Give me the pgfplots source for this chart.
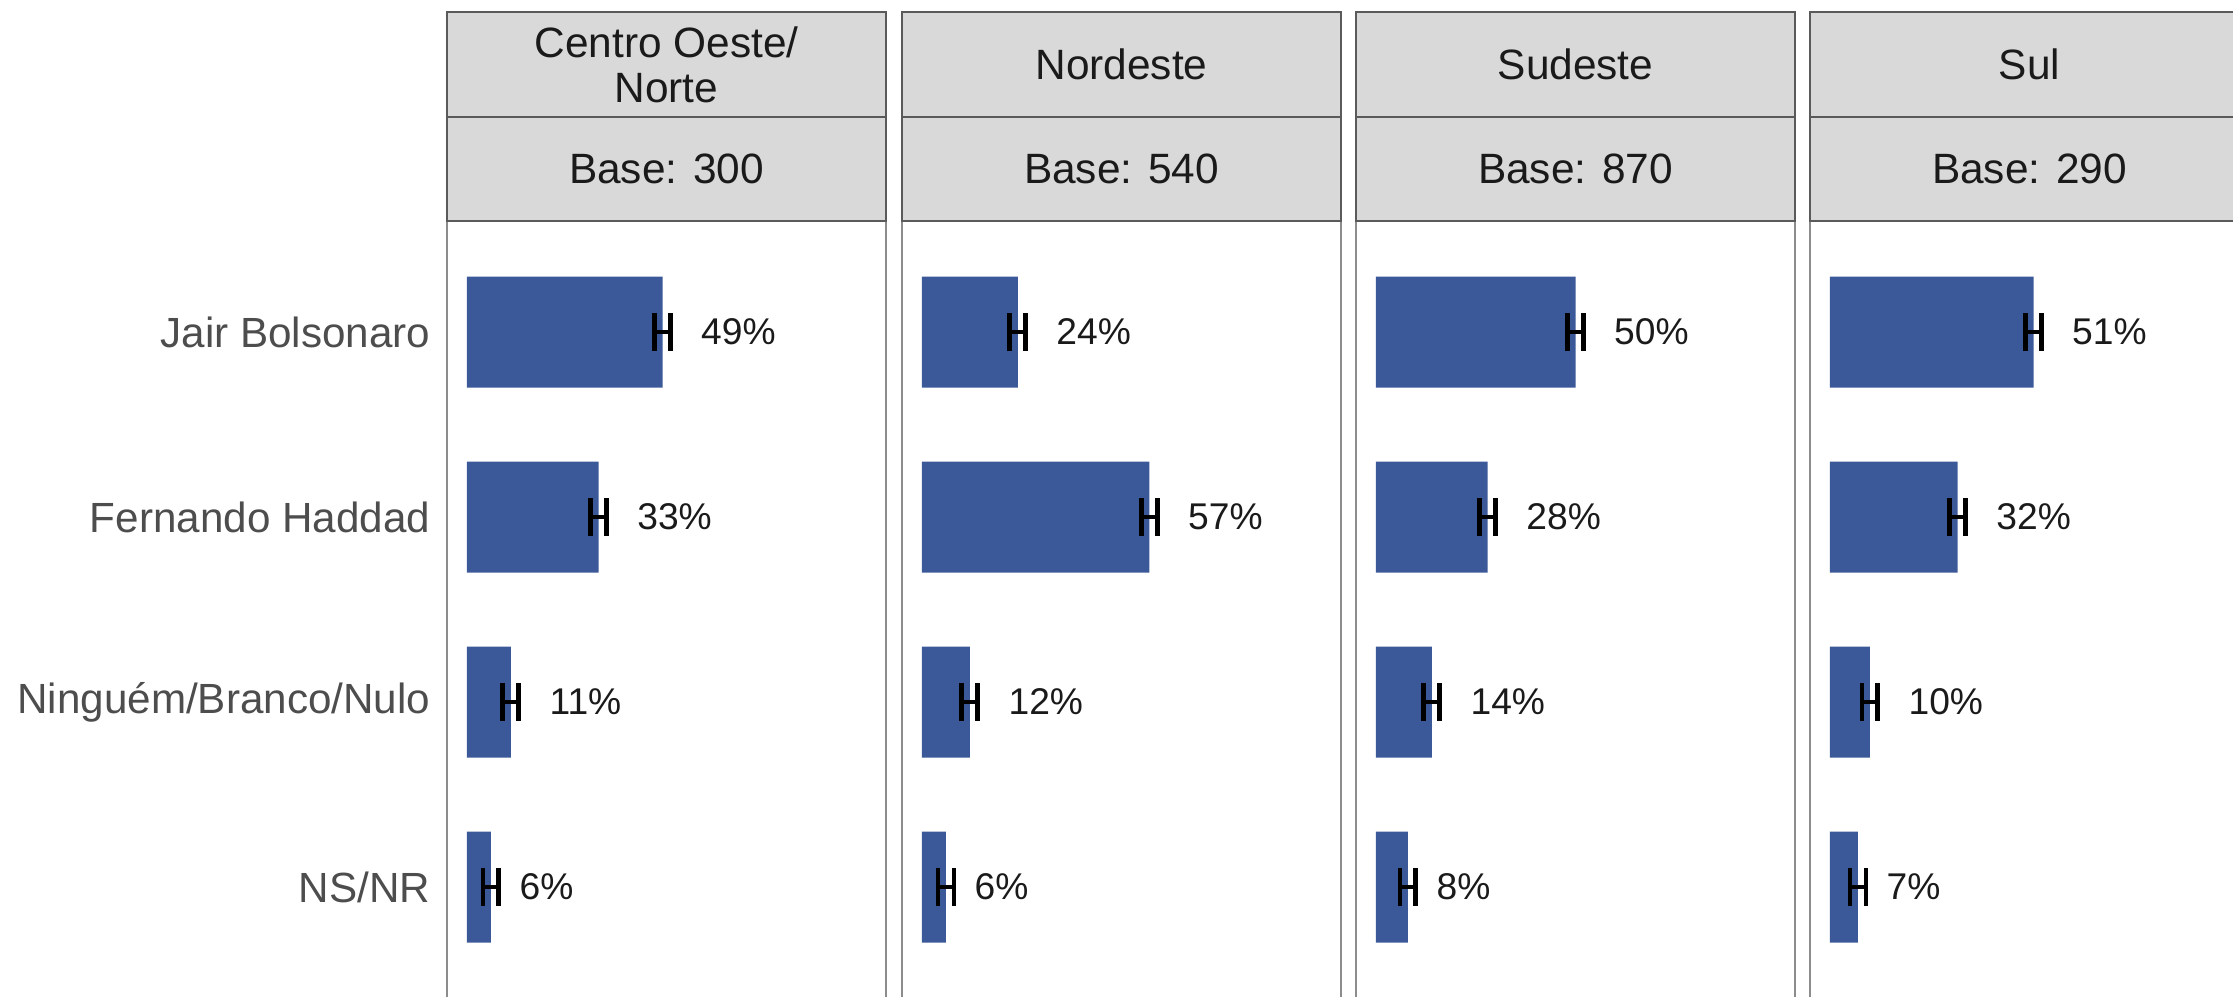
\documentclass[border=0pt]{standalone}
\usepackage{fontspec}
\setmainfont{Liberation Sans}
\usepackage{pgfplots}
\usepackage{pgfplotstable}
\pgfplotsset{compat=1.18}
\usetikzlibrary{calc}
\definecolor{barblue}{HTML}{3B5998}
\definecolor{stripfill}{HTML}{D9D9D9}
\definecolor{stripborder}{HTML}{5A5A5A}
\definecolor{panelborder}{HTML}{8C8C8C}
\definecolor{ylab}{HTML}{4D4D4D}
\definecolor{labtext}{HTML}{1A1A1A}

\pgfplotstableread{
y val lx
4 49 58.5
3 33 42.5
2 11 20.5
1 6 13
}\tabA
\pgfplotstableread{
y val lx
4 24 33.5
3 57 66.5
2 12 21.5
1 6 13
}\tabB
\pgfplotstableread{
y val lx
4 50 59.5
3 28 37.5
2 14 23.5
1 8 15
}\tabC
\pgfplotstableread{
y val lx
4 51 60.5
3 32 41.5
2 10 19.5
1 7 14
}\tabD

\pgfplotsset{
  panel/.style={width=109.75pt, height=194.25pt, scale only axis,
    xmin=-5, xmax=105, ymin=0.4, ymax=4.6, xtick=\empty, ytick=\empty,
    axis line style={draw=panelborder, line width=0.6pt},
    clip=false, anchor=north west},
  barplot/.style={xbar, fill=barblue, draw=none, bar width=0.6,
    error bars/.cd, x dir=both, x fixed=2, error mark=|,
    error bar style={draw=black, line width=1.1pt},
    error mark options={draw=black, line width=1.2pt, mark size=4.75pt}},
  labplot/.style={draw=none, mark=none, point meta=explicit,
    /pgf/number format/assume math mode=true,
    nodes near coords={\pgfmathprintnumber{\pgfplotspointmeta}\%},
    nodes near coords style={anchor=west, inner sep=0pt, font=\fontsize{9.3}{10}\selectfont, text=labtext}},
}

\newcommand{\strips}[3]{%
  \draw[fill=stripfill, draw=stripborder, line width=0.6pt] (#1.north west) rectangle ([yshift=26pt]#1.north east);
  \draw[fill=stripfill, draw=stripborder, line width=0.6pt] ([yshift=26pt]#1.north west) rectangle ([yshift=52.25pt]#1.north east);
  \node[font=\fontsize{10.6}{11.25}\selectfont, text=labtext, align=center] at ([yshift=13pt]$(#1.north west)!0.5!(#1.north east)$) {#3};
  \node[font=\fontsize{10.6}{11.25}\selectfont, text=labtext, align=center] at ([yshift=39.1pt]$(#1.north west)!0.5!(#1.north east)$) {#2};
}

\begin{document}
\begin{tikzpicture}
\begin{axis}[panel, name=a1, at={(111.75pt,-55.25pt)},
  ytick={1,2,3,4}, yticklabels={NS/NR, Ninguém/Branco/Nulo, Fernando Haddad, Jair Bolsonaro},
  major tick length=0pt,
  yticklabel style={anchor=east, inner sep=0pt, xshift=-4pt, font=\fontsize{10.55}{12}\selectfont, text=ylab}]
\addplot[barplot] table[x=val, y=y] {\tabA};
\addplot[labplot] table[x=lx, y=y, meta=val] {\tabA};
\end{axis}
\begin{axis}[panel, name=a2, at={(225.5pt,-55.25pt)}]
\addplot[barplot] table[x=val, y=y] {\tabB};
\addplot[labplot] table[x=lx, y=y, meta=val] {\tabB};
\end{axis}
\begin{axis}[panel, name=a3, at={(339pt,-55.25pt)}]
\addplot[barplot] table[x=val, y=y] {\tabC};
\addplot[labplot] table[x=lx, y=y, meta=val] {\tabC};
\end{axis}
\begin{axis}[panel, name=a4, at={(452.5pt,-55.25pt)}]
\addplot[barplot] table[x=val, y=y] {\tabD};
\addplot[labplot] table[x=lx, y=y, meta=val] {\tabD};
\end{axis}
\strips{a1}{Centro Oeste/\\Norte}{Base: 300}
\strips{a2}{Nordeste}{Base: 540}
\strips{a3}{Sudeste}{Base: 870}
\strips{a4}{Sul}{Base: 290}
\pgfresetboundingbox
\path[use as bounding box] (0,0) rectangle (558.25pt,-249pt);
\end{tikzpicture}
\end{document}
